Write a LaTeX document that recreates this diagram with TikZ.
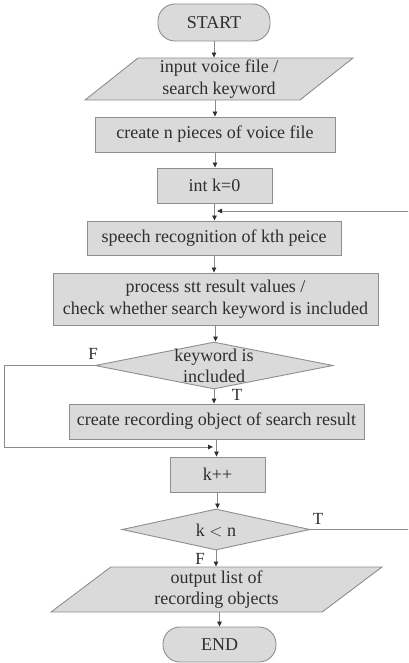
\documentclass[tikz,border=0pt]{standalone}
\usepackage{fontspec}
\setmainfont{Liberation Serif}
\usetikzlibrary{shapes.geometric,arrows.meta}
\definecolor{boxfill}{HTML}{DADADA}
\definecolor{boxline}{HTML}{8E8E8E}
\definecolor{ink}{HTML}{2E2E2E}
\definecolor{wirecol}{HTML}{8A8A8A}
\definecolor{tipcol}{HTML}{303030}

\begin{document}
\begin{tikzpicture}[x=1pt,y=-1pt,
  every node/.style={font=\fontsize{18}{21.5}\selectfont, text=ink},
  base/.style={draw=boxline, fill=boxfill, line width=0.9pt, inner sep=2pt, align=center},
  proc/.style={base, rectangle},
  term/.style={base, rectangle, rounded corners=17pt},
  io/.style={base, trapezium, trapezium stretches body},
  dec/.style={base, diamond, inner sep=0pt},
  dectext/.style={align=center, inner sep=0pt},
  lbl/.style={font=\fontsize{17}{17}\selectfont, inner sep=0pt},
  wire/.style={draw=wirecol, line width=0.8pt},
  flow/.style={wire, -{Triangle[length=5pt,width=4.5pt,color=tipcol]}}]

\useasboundingbox (0,0) rectangle (408,663);
\clip (0,0) rectangle (408,663);

% shapes of the flow
\node[term, minimum width=112pt, minimum height=37pt] (start) at (214,22.5) {START};
\node[io, trapezium left angle=38.4, trapezium right angle=141.6,
      minimum width=268pt, minimum height=42pt] (in) at (219,79) {input voice file /\\search keyword};
\node[proc, minimum width=240pt, minimum height=35pt] (pieces) at (215,134.5) {create n pieces of voice file};
\node[proc, minimum width=115pt, minimum height=35pt] (init) at (214.5,185.5) {int k=0};
\node[proc, minimum width=254pt, minimum height=34pt] (speech) at (214,238) {speech recognition of kth peice};
\node[proc, minimum width=325pt, minimum height=52pt] (stt) at (215.5,299) {process stt result values /\\check whether search keyword is included};
\node[dec, minimum width=238pt, minimum height=47pt] (kw) at (214,365.5) {};
\node[dectext] (kwt) at (214,366) {keyword is\\included};
\node[proc, minimum width=295pt, minimum height=35pt] (rec) at (216.5,421.5) {create recording object of search result};
\node[proc, minimum width=95pt, minimum height=35pt] (inc) at (217.5,474.5) {k++};
\node[dec, minimum width=188pt, minimum height=41pt] (kn) at (216,529.5) {};
\node[dectext] (knt) at (216,530) {k $<$ n};
\node[io, trapezium left angle=35.1, trapezium right angle=144.9,
      minimum width=331pt, minimum height=45pt] (out) at (216.5,589.5) {output list of\\recording objects};
\node[term, minimum width=113pt, minimum height=35pt] (end) at (219.5,644.5) {END};

% branch labels
\node[lbl] (kwF) at (93,354) {F};
\node[lbl] (kwT) at (237,395) {T};
\node[lbl] (knT) at (318,519) {T};
\node[lbl] (knF) at (200,559) {F};

% junction points and loop rails
\coordinate (ret) at (217,211);
\coordinate (merge) at (213,447);
\coordinate (leftrail) at (4,0);
\coordinate (rightrail) at (440,0);

% straight flow
\draw[flow] (start.south) -- (start.south |- in.north);
\draw[flow] (in.south -| pieces.north) -- (pieces.north);
\draw[flow] (pieces.south) -- (pieces.south |- init.north);
\draw[flow] (init.south) -- (init.south |- speech.north);
\draw[flow] (speech.south) -- (speech.south |- stt.north);
\draw[flow] (stt.south) -- (stt.south |- kw.north);
\draw[flow] (kw.south) -- (kw.south |- rec.north);
\draw[flow] (rec.south) -- (rec.south |- inc.north);
\draw[flow] (inc.south) -- (inc.south |- kn.north);
\draw[flow] (kn.south) -- (kn.south |- out.north);
\draw[flow] (out.south -| end.north) -- (end.north);

% keyword not found: skip to k++
\draw[flow] (kw.west) -- (kw.west -| leftrail) |- (merge);
% k < n: back to the next piece
\draw[flow] (kn.east) -- (kn.east -| rightrail) |- (ret);
\end{tikzpicture}
\end{document}
